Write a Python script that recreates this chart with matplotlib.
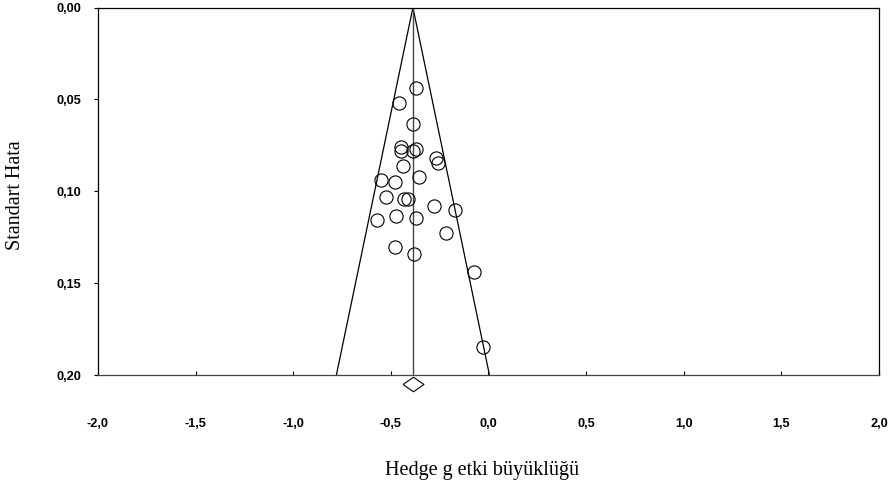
"""
Funnel plot: Hedge g effect size vs standard error.
"""

import matplotlib
matplotlib.use("Agg")
import matplotlib.pyplot as plt
import numpy as np

# Study effect sizes (Hedge g) and their standard errors
hedge_g = [-0.373, -0.459, -0.387, -0.447, -0.450, -0.373, -0.387, -0.268,
           -0.259, -0.436, -0.358, -0.549, -0.477, -0.523, -0.435, -0.411,
           -0.281, -0.172, -0.571, -0.472, -0.370, -0.220, -0.481, -0.379,
           -0.075, -0.026]
std_err = [0.0440, 0.0517, 0.0635, 0.0759, 0.0782, 0.0769, 0.0782, 0.0819,
           0.0846, 0.0865, 0.0922, 0.0940, 0.0951, 0.1031, 0.1040, 0.1044,
           0.1078, 0.1104, 0.1154, 0.1132, 0.1143, 0.1227, 0.1304, 0.1342,
           0.1441, 0.1849]
summary_effect = -0.387

x_ticks = [-2.0, -1.5, -1.0, -0.5, 0.0, 0.5, 1.0, 1.5, 2.0]
y_ticks = [0.00, 0.05, 0.10, 0.15, 0.20]
se_max = 0.20


def comma(v, fmt):
    return format(v, fmt).replace(".", ",")


fig = plt.figure(figsize=(8.9, 4.84), dpi=100)
ax = fig.add_axes([0.1101, 0.2252, 0.8775, 0.7593])

# Pseudo 95% confidence funnel
se_line = np.array([0.0, se_max])
ax.plot(summary_effect - 1.96 * se_line, se_line, color="black", lw=0.9)
ax.plot(summary_effect + 1.96 * se_line, se_line, color="black", lw=0.9)
ax.plot([summary_effect, summary_effect], [0.0, se_max], color="#444444", lw=1.0)

ax.plot(hedge_g, std_err, "o", ms=9.5, mfc="none", mec="black", mew=0.8,
        linestyle="none")

# Summary diamond below the axis
diamond = [(-1, 0), (0, 0.7), (1, 0), (0, -0.7), (-1, 0)]
ax.plot([summary_effect], [se_max + 0.0049], marker=diamond, ms=15,
        mfc="white", mec="black", mew=0.8, linestyle="none", clip_on=False)

ax.set_xlim(-2.0, 2.0)
ax.set_ylim(se_max, 0.0)

ax.set_xticks(x_ticks)
ax.set_xticklabels([comma(v, ".1f") for v in x_ticks])
ax.set_yticks(y_ticks)
ax.set_yticklabels([comma(v, ".2f") for v in y_ticks])

for lab in ax.get_xticklabels() + ax.get_yticklabels():
    lab.set_fontfamily("Liberation Sans")
    lab.set_fontweight("bold")
    lab.set_fontsize(9.2)

ax.tick_params(axis="x", direction="in", length=3, width=0.8, pad=31)
ax.tick_params(axis="y", direction="out", length=3, width=0.8, pad=9)

for side in ["top", "right", "left"]:
    ax.spines[side].set_linewidth(0.9)
    ax.spines[side].set_color("black")
ax.spines["bottom"].set_linewidth(0.9)
ax.spines["bottom"].set_color("#444444")

fig.text(0.017, 0.597, "Standart Hata", rotation=90, ha="center", va="center",
         family="Liberation Serif", fontsize=14.5)
fig.text(0.542, 0.027, "Hedge g etki büyüklüğü", ha="center", va="center",
         family="Liberation Serif", fontsize=14.5)

fig.savefig("out.png", dpi=100)
